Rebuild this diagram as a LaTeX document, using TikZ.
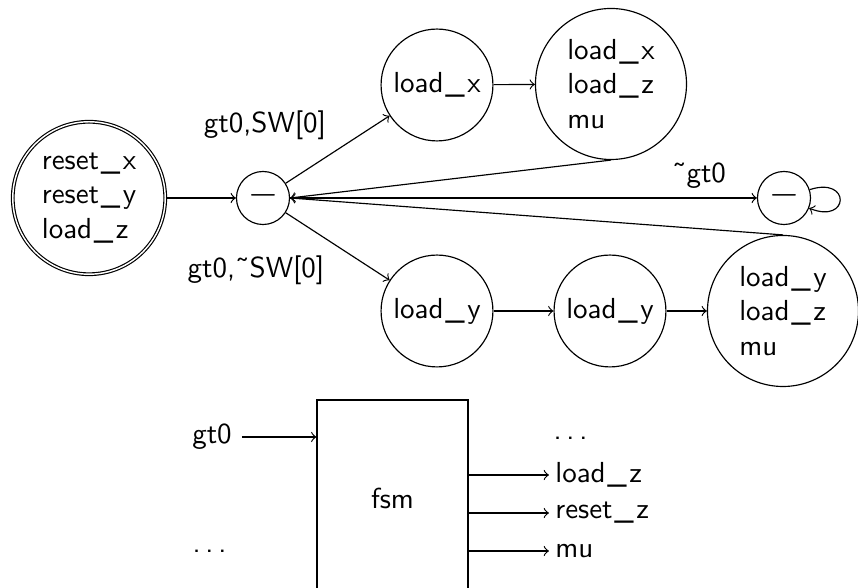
\documentclass[tikz,border=0pt]{standalone}
\newcommand\usc{\kern0.6pt\_\kern0.9pt}
\newcommand\sdots{.\kern\fontdimen3\font.\kern\fontdimen3\font.}
\begin{document}
\begin{tikzpicture}[x=0.345pt,y=-0.345pt,font=\sffamily,
  st/.style={draw,circle,inner sep=0pt,align=left},
  ssmall/.style={st,minimum size=18.3pt},
  smed/.style={st,minimum size=38.6pt},
  sbig/.style={st,minimum size=52.1pt},
  sinit/.style={st,minimum size=52.6pt,double,double distance=0.5pt},
  lbl/.style={inner sep=0pt},
  outl/.style={anchor=west,inner sep=2pt},
  >=to]
\useasboundingbox (0,0) rectangle (858,588);
\clip (0,0) rectangle (858,588);
% states
\node[sinit] (reset) at (89,198) {reset\usc x\\reset\usc y\\load\usc z};
\node[ssmall] (s1) at (263,198) {\bfseries\fontsize{7.5}{9}\selectfont ---};
\node[smed] (lx) at (437,85) {load\usc x};
\node[sbig] (b1) at (611,84) {load\usc x\\load\usc z\\mu};
\node[ssmall] (s2) at (784,198) {\bfseries\fontsize{7.5}{9}\selectfont ---};
\node[smed] (ly1) at (437,311) {load\usc y};
\node[smed] (ly2) at (610,311) {load\usc y};
\node[sbig] (b2) at (783,311) {load\usc y\\load\usc z\\mu};
% labels
\node[lbl,anchor=base] (l1) at (265,133) {gt0,SW[0]};
\node[lbl,anchor=base] (l2) at (256,278) {gt0,˜SW[0]};
\node[lbl,anchor=base] (l3) at (699,183) {˜gt0};
% transitions
\draw[->] (reset) -- (s1);
\draw[->] (s1) -- (lx);
\draw[->] (s1) -- (ly1);
\draw[->] (lx) -- (b1);
\draw[->] (b1.south) -- (s1.east);
\draw[->] (s1.east) -- (s2);
\draw[->] (b2.north) -- (s1.east);
\draw[->] (ly1) -- (ly2);
\draw[->] (ly2) -- (b2);
\draw[->] (s2.18) .. controls +(18:15pt) and +(-22:15pt) .. (s2.-22);
% fsm block
\node[draw,minimum width=52.1pt,minimum height=67.6pt] (fsm) at (392.5,498) {fsm};
\node (gt0) at (212,437) {gt0};
\draw[->] (gt0) -- (gt0 -| fsm.west);
\node[lbl,anchor=base west] (ldots) at (192,553) {\sdots};
\node[lbl,anchor=base west] (rdots) at (553,440) {\sdots};
\node[outl] (lz) at (549,475) {load\usc z};
\node[outl] (rz) at (549,513) {reset\usc z};
\node[outl] (mu) at (549,551) {mu};
\draw[->] (fsm.east |- lz.west) -- (lz.west);
\draw[->] (fsm.east |- rz.west) -- (rz.west);
\draw[->] (fsm.east |- mu.west) -- (mu.west);
\end{tikzpicture}
\end{document}
